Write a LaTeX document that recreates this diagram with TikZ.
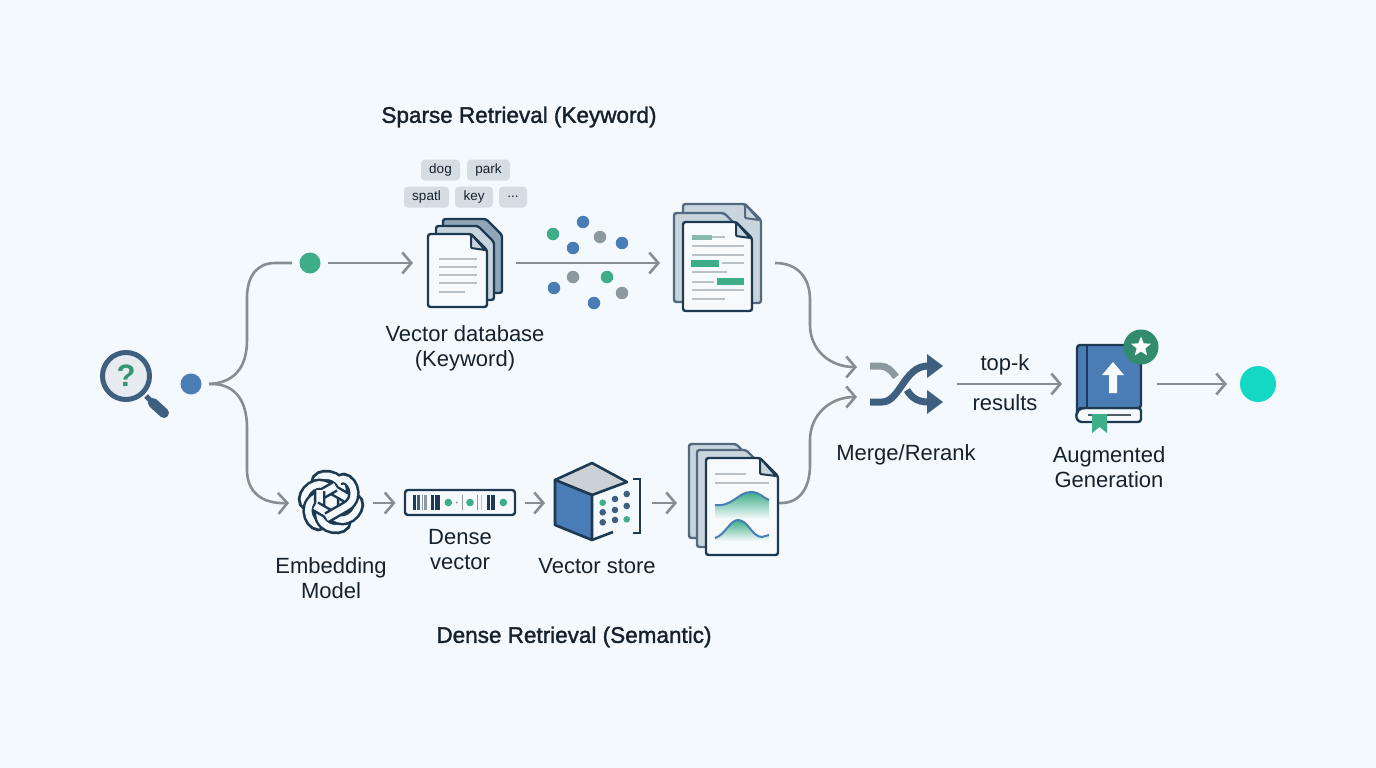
\documentclass[tikz,border=0pt]{standalone}
\usepackage{fontspec}
\setmainfont{Liberation Sans}
\newfontfamily\titlefont[FakeBold=1.6]{Liberation Sans}
\usetikzlibrary{arrows.meta,shapes.geometric}

\definecolor{bgc}{HTML}{F3F9FC}
\definecolor{inkc}{HTML}{1E3A52}
\definecolor{linec}{HTML}{868E92}
\definecolor{bluec}{HTML}{4A7DB5}
\definecolor{greenc}{HTML}{3DAE87}
\definecolor{grayc}{HTML}{8E999F}
\definecolor{tagc}{HTML}{D5DCE2}
\definecolor{paperc}{HTML}{F7FAFC}
\definecolor{pagec}{HTML}{C9D5DD}
\definecolor{backc}{HTML}{8FA5B8}
\definecolor{rulec}{HTML}{B7C1C7}
\definecolor{steelc}{HTML}{3E5F80}
\definecolor{textc}{HTML}{15222D}
\definecolor{answerc}{HTML}{12D8C4}

\tikzset{
  conn/.style={draw=linec,line width=2.6pt,-{Straight Barb[length=9pt,width=21pt,line width=2.6pt]}},
  connplain/.style={draw=linec,line width=2.6pt},
  label/.style={text=textc,font=\fontsize{22}{25}\selectfont,align=center,inner sep=0pt},
  title/.style={text=textc,font=\titlefont\fontsize{22.5}{26}\selectfont,inner sep=0pt},
  keytag/.style={fill=tagc,rounded corners=4pt,minimum height=21pt,inner sep=0pt,text=textc,font=\fontsize{13.5}{15}\selectfont},
  dot/.style={circle,fill=#1,minimum size=12.5pt,inner sep=0pt},
  flowdot/.style={circle,fill=#1,minimum size=21pt,inner sep=0pt,outer sep=7.5pt},
  slot/.style={inner sep=0pt,outer sep=0pt,minimum width=#1},
  pageline/.style={draw=rulec,line width=2.4pt},
  pics/docsheet/.style args={#1/#2/#3/#4/#5/#6/#7}{code={
    \draw[draw=#6,line width=2.4pt,fill=#7,rounded corners=2.5pt]
      (#1,#2) -- (#3-#5,#2) -- (#3,#2+#5) -- (#3,#4) -- (#1,#4) -- cycle;
  }},
  pics/docpage/.style args={#1/#2/#3/#4/#5/#6/#7}{code={
    \draw[draw=#6,line width=2.4pt,fill=#7,rounded corners=2.5pt]
      (#1,#2) -- (#3-#5,#2) -- (#3,#2+#5) -- (#3,#4) -- (#1,#4) -- cycle;
    \draw[draw=#6,line width=2pt,fill=pagec,rounded corners=1pt]
      (#3-#5,#2) -- (#3-#5,#2+#5-2) -- (#3-2,#2+#5) -- cycle;
  }},
}

\begin{document}
\begin{tikzpicture}[x=1pt,y=-1pt]
  \useasboundingbox (0,0) rectangle (1376,768);
  \fill[bgc] (0,0) rectangle (1376,768);

  % titles
  \node[title] (sparsetitle) at (519,117) {Sparse Retrieval (Keyword)};
  \node[title] (densetitle) at (574,637) {Dense Retrieval (Semantic)};

  % query
  \draw[steelc,line width=5pt] (146,396) -- (153,403);
  \draw[steelc,line width=10pt,line cap=round] (153,403) -- (164,413);
  \node[circle,draw=steelc,fill=tagc!50!paperc,line width=5pt,minimum size=47pt,inner sep=0pt,
        text=greenc!85!black,font=\fontsize{31}{31}\selectfont\bfseries] (query) at (126,376) {?};
  \node[flowdot=bluec] (querydot) at (191,384) {};

  % dots and slots the connectors meet
  \node[flowdot=greenc] (sparsedot) at (310,263) {};
  \node[slot=103pt] (keydocs) at (464.5,263) {};
  \node[slot=115pt] (keyhits) at (717.5,263) {};
  \node[slot=84pt] (embedmodel) at (331,503) {};
  \node[slot=129pt] (densevec) at (460,503) {};
  \node[slot=107pt] (vecstore) at (598.5,503) {};
  \node[slot=102pt] (densehits) at (728,503) {};
  \node[slot=102pt] (mergeicon) at (906,384) {};
  \node[slot=95pt] (bookicon) at (1109.5,384) {};
  \node[flowdot=answerc,minimum size=36pt,outer sep=13pt] (answer) at (1258,384) {};

  % connectors
  \draw[connplain] (querydot.east) .. controls (232,383) and (247,370) .. (247,340) -- (247,298)
      .. controls (247,275) and (258,263) .. (275,263) -- (sparsedot.west);
  \draw[conn] (querydot.east) .. controls (232,383) and (247,397) .. (247,428) -- (247,470)
      .. controls (247,492) and (262,504) .. (embedmodel.west);
  \draw[conn] (sparsedot) -- (keydocs);
  \draw[conn] (keydocs) -- (keyhits);
  \draw[conn] (keyhits.east) .. controls (798,263) and (810,278) .. (810,300) -- (810,325)
      .. controls (810,350) and (830,367) .. (857,367);
  \draw[conn] (embedmodel) -- (densevec);
  \draw[conn] (densevec) -- (vecstore);
  \draw[conn] (vecstore) -- (densehits);
  \draw[conn] (densehits.east) .. controls (798,504) and (810,490) .. (810,465) -- (810,440)
      .. controls (810,415) and (830,397) .. (857,397);
  \draw[conn] (mergeicon) -- (bookicon);
  \draw[conn] (bookicon) -- (answer);

  % keyword tags
  \node[keytag,minimum width=39pt] (tagdog) at (440.5,170) {dog};
  \node[keytag,minimum width=43pt] (tagpark) at (488.5,170) {park};
  \node[keytag,minimum width=45pt] (tagspatl) at (426.5,197) {spatl};
  \node[keytag,minimum width=38pt] (tagkey) at (474,197) {key};
  \node[keytag,minimum width=28pt] (tagmore) at (513,197) {...};

  % database pages
  \pic {docsheet={443/219/502/293/16/inkc/backc}};
  \pic {docsheet={436/226/494/300/16/inkc/pagec}};
  \pic {docpage={428/234/487/307/16/inkc/paperc}};
  \foreach \ly/\lx in {259/477,267/477,275/477,283/477,292/465}
    \draw[pageline] (439,\ly) -- (\lx,\ly);

  % scattered dots
  \node[dot=bluec] (sa) at (583,222) {};
  \node[dot=greenc] (sb) at (553,234) {};
  \node[dot=grayc] (sc) at (600,237) {};
  \node[dot=bluec] (sd) at (622,243) {};
  \node[dot=bluec] (se) at (573,248) {};
  \node[dot=grayc] (sf) at (573,277) {};
  \node[dot=greenc] (sg) at (607,277) {};
  \node[dot=bluec] (sh) at (554,288) {};
  \node[dot=grayc] (si) at (622,293) {};
  \node[dot=bluec] (sj) at (594,303) {};

  % keyword hits
  \pic {docpage={683/204/761/303/16/steelc!70!gray/pagec}};
  \pic {docsheet={674/213/738/302/14/steelc!70!gray/pagec}};
  \pic {docpage={683/222/752/311/16/inkc/paperc}};
  \foreach \ly/\la/\lb in {237/692/725,246/692/744,255/692/744,263/722/744,272/692/727,282/692/714,290/692/744,299/692/725}
    \draw[pageline] (\la,\ly) -- (\lb,\ly);
  \fill[greenc] (691,260) rectangle (719,267);
  \fill[greenc] (717,278) rectangle (744,285);
  \fill[greenc!40!rulec] (692,235) rectangle (712,240);

  % embedding knot
  \begin{scope}[shift={(331,502)}]
    \foreach \ang in {0,60,...,300} {
      \draw[inkc,line width=11.5pt,rotate=\ang]
        (11.5,11) -- (11.5,-11) .. controls (11.5,-29) and (-15,-31) .. (-15,-19);
      \draw[bgc,line width=6.5pt,rotate=\ang]
        (11.5,12) -- (11.5,-11) .. controls (11.5,-29) and (-15,-31) .. (-15,-18);
    }
  \end{scope}

  % barcode
  \draw[inkc,line width=2.4pt,fill=paperc,rounded corners=3pt] (405,490) rectangle (515,515);
  \foreach \bx/\bw/\bc in {412.7/3.3/inkc,417.3/2.7/steelc,421.7/1.3/grayc,424.3/2.4/grayc,430.7/3.6/inkc,435/5/inkc,462.3/.9/grayc,477.3/.9/grayc,481.3/.9/rulec,486.7/3.3/inkc,491.3/3.7/inkc}
    \fill[\bc] (\bx,495) rectangle ++(\bw,14.5);
  \foreach \bx in {448.3,470,503.3}
    \fill[greenc] (\bx,502.5) circle (3.8);
  \fill[grayc] (456.7,502.5) circle (1.2);

  % cube
  \draw[inkc,line width=2.6pt,fill=rulec!70!paperc,line join=round] (592,463) -- (627,482) -- (592,495) -- (555,480) -- cycle;
  \draw[inkc,line width=2.6pt,fill=bluec,line join=round] (555,480) -- (592,495) -- (592,540) -- (555,525) -- cycle;
  \draw[inkc,line width=2.6pt] (592,540) -- (613,532);
  \draw[inkc,line width=2.4pt] (633,479) -- (640,479) -- (640,533) -- (633,533);
  \foreach \cx/\cy/\cc in {602.7/502.7/greenc,615/499/steelc,626.7/494/steelc,602.7/512.3/steelc,615/510/steelc,626.7/506/steelc,602.7/522.3/steelc,615/520/steelc,626.7/519.3/greenc}
    \fill[\cc] (\cx,\cy) circle (3.3);

  % dense hits
  \pic {docsheet={689/444/750/538/14/steelc!70!gray/pagec}};
  \pic {docsheet={697/450/760/547/14/steelc!70!gray/pagec}};
  \pic {docpage={706/458/778/555/18/inkc/paperc}};
  \draw[pageline] (715,474) -- (746,474);
  \draw[pageline] (715,483) -- (769,483);
  \path[top color=greenc,bottom color=paperc]
    (715,505) .. controls (733,507) and (738,492) .. (751,492) .. controls (760,492) and (763,498) .. (769,500) -- (769,519) -- (715,519) -- cycle;
  \draw[bluec,line width=2pt] (715,505) .. controls (733,507) and (738,492) .. (751,492) .. controls (760,492) and (763,498) .. (769,500);
  \path[top color=greenc,bottom color=paperc]
    (715,538) .. controls (725,535) and (730,520) .. (738,520) .. controls (748,520) and (752,537) .. (762,537) -- (769,535) -- (769,541) -- (715,541) -- cycle;
  \draw[bluec,line width=2pt] (715,538) .. controls (725,535) and (730,520) .. (738,520) .. controls (748,520) and (752,537) .. (762,537) -- (769,535);

  % shuffle
  \draw[grayc,line width=7pt] (870,366) -- (880,366) .. controls (887,366) and (892,371) .. (896,377);
  \draw[steelc,line width=7pt] (870,402) -- (882,402) .. controls (900,402) and (904,366) .. (928,366);
  \draw[steelc,line width=7pt] (907,390) .. controls (911,397) and (917,402) .. (928,402);
  \fill[steelc] (927,354) -- (943,366) -- (927,378) -- cycle;
  \fill[steelc] (927,390) -- (943,402) -- (927,414) -- cycle;

  % book
  \draw[inkc,line width=2.4pt,fill=paperc,rounded corners=3pt] (1085,408) -- (1141,408) -- (1141,422) -- (1085,422) .. controls (1074,422) and (1074,408) .. (1085,408);
  \draw[inkc!50!gray,line width=1.5pt] (1088,415) -- (1131,415);
  \draw[inkc,line width=2.4pt,fill=bluec,rounded corners=3pt] (1077,414) -- (1077,345) -- (1141,345) -- (1141,408) -- (1084,408) .. controls (1080,408) and (1077,410) .. (1077,414);
  \draw[inkc,line width=2pt] (1087,345) -- (1087,408);
  \fill[greenc] (1092,414) -- (1107,414) -- (1107,433) -- (1099.5,427) -- (1092,433) -- cycle;
  \fill[paperc] (1109,393) -- (1109,375) -- (1102,375) -- (1113,362) -- (1124,375) -- (1117,375) -- (1117,393) -- cycle;
  \node[circle,fill=greenc!80!black,minimum size=35pt,inner sep=0pt] (badge) at (1141,347) {};
  \node[star,star points=5,star point ratio=2.3,fill=white,minimum size=21pt,inner sep=0pt] (badgestar) at (1141,347) {};

  % labels
  \node[label] (dblabel) at (465,348) {Vector database\\(Keyword)};
  \node[label] (modellabel) at (331,578.5) {Embedding\\Model};
  \node[label] (veclabel) at (460,550) {Dense\\vector};
  \node[label] (storelabel) at (597,566.5) {Vector store};
  \node[label] (mergelabel) at (906,454.5) {Merge/Rerank};
  \node[label] (genlabel) at (1109,467) {Augmented\\Generation};
  \node[label] (toplabel) at (1005,364.5) {top-k};
  \node[label] (reslabel) at (1005,402.5) {results};
\end{tikzpicture}
\end{document}
